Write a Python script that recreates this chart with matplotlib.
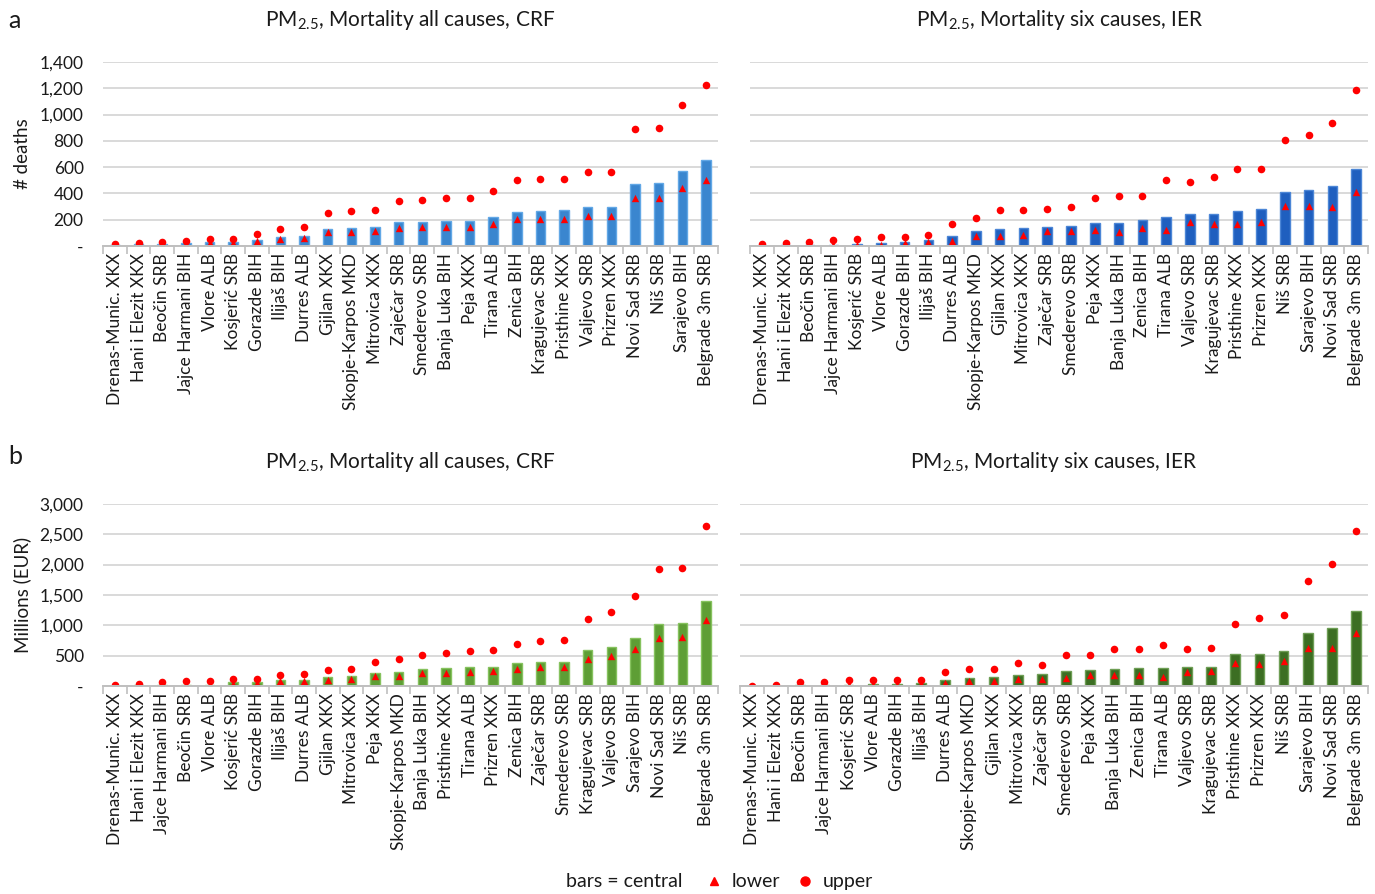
import matplotlib

matplotlib.use("Agg")
import matplotlib.pyplot as plt
from matplotlib.lines import Line2D
from matplotlib.ticker import FuncFormatter, FixedLocator

plt.rcParams["font.family"] = ["Lato", "DejaVu Sans"]
plt.rcParams["mathtext.default"] = "regular"

# ---- panel a, left: deaths, all causes, CRF ----
cities_a1 = [
    "Drenas-Munic. XKX", "Hani i Elezit XKX", "Beočin SRB", "Jajce Harmani BIH",
    "Vlore ALB", "Kosjerić SRB", "Gorazde BIH", "Ilijaš BIH", "Durres ALB",
    "Gjilan XKX", "Skopje-Karpos MKD", "Mitrovica XKX", "Zaječar SRB",
    "Smederevo SRB", "Banja Luka BIH", "Peja XKX", "Tirana ALB", "Zenica BIH",
    "Kragujevac SRB", "Pristhine XKX", "Valjevo SRB", "Prizren XKX",
    "Novi Sad SRB", "Niš SRB", "Sarajevo BIH", "Belgrade 3m SRB",
]
central_a1 = [8, 12, 15, 20, 28, 28, 47, 70, 75, 133, 140, 145, 180, 183, 190,
              192, 220, 262, 266, 272, 295, 300, 474, 478, 568, 651]
lower_a1 = [5, 8, 11, 15, 21, 21, 36, 54, 58, 106, 108, 112, 139, 141, 146,
            148, 170, 202, 205, 209, 227, 231, 365, 368, 440, 502]
upper_a1 = [15, 25, 30, 42, 53, 53, 88, 130, 142, 253, 265, 272, 343, 350, 367,
            368, 420, 500, 507, 513, 562, 563, 892, 900, 1070, 1225]

# ---- panel a, right: deaths, six causes, IER ----
cities_a2 = [
    "Drenas-Munic. XKX", "Hani i Elezit XKX", "Beočin SRB", "Jajce Harmani BIH",
    "Kosjerić SRB", "Vlore ALB", "Gorazde BIH", "Ilijaš BIH", "Durres ALB",
    "Skopje-Karpos MKD", "Gjilan XKX", "Mitrovica XKX", "Zaječar SRB",
    "Smederevo SRB", "Peja XKX", "Banja Luka BIH", "Zenica BIH", "Tirana ALB",
    "Valjevo SRB", "Kragujevac SRB", "Pristhine XKX", "Prizren XKX", "Niš SRB",
    "Sarajevo BIH", "Novi Sad SRB", "Belgrade 3m SRB",
]
central_a2 = [3, 5, 7, 10, 13, 25, 33, 46, 76, 114, 129, 134, 147, 154, 175,
              175, 197, 223, 246, 246, 268, 281, 410, 428, 453, 585]
lower_a2 = [2, 3, 4, 5, 7, 10, 25, 33, 38, 78, 78, 86, 111, 116, 119, 104,
            139, 119, 180, 170, 170, 185, 301, 306, 296, 408]
upper_a2 = [15, 25, 30, 48, 56, 71, 71, 81, 170, 210, 271, 276, 283, 294, 365,
            382, 382, 504, 484, 524, 587, 587, 810, 848, 934, 1187]

# ---- panel b, left: costs, all causes, CRF ----
cities_b1 = [
    "Drenas-Munic. XKX", "Hani i Elezit XKX", "Jajce Harmani BIH", "Beočin SRB",
    "Vlore ALB", "Kosjerić SRB", "Gorazde BIH", "Ilijaš BIH", "Durres ALB",
    "Gjilan XKX", "Mitrovica XKX", "Peja XKX", "Skopje-Karpos MKD",
    "Banja Luka BIH", "Pristhine XKX", "Tirana ALB", "Prizren XKX", "Zenica BIH",
    "Zaječar SRB", "Smederevo SRB", "Kragujevac SRB", "Valjevo SRB",
    "Sarajevo BIH", "Novi Sad SRB", "Niš SRB", "Belgrade 3m SRB",
]
central_b1 = [6, 12, 17, 22, 22, 60, 60, 99, 104, 143, 159, 209, 231, 275, 297,
              313, 319, 374, 401, 401, 588, 643, 797, 1022, 1033, 1407]
lower_b1 = [4, 8, 11, 15, 15, 33, 44, 82, 77, 104, 110, 157, 170, 214, 220,
            231, 242, 286, 308, 308, 451, 495, 615, 797, 808, 1088]
upper_b1 = [10, 27, 60, 77, 77, 121, 121, 181, 198, 269, 286, 390, 451, 516,
            549, 577, 588, 698, 747, 764, 1104, 1220, 1484, 1929, 1940, 2643]

# ---- panel b, right: costs, six causes, IER ----
cities_b2 = [
    "Drenas-Munic. XKX", "Hani i Elezit XKX", "Beočin SRB", "Jajce Harmani BIH",
    "Kosjerić SRB", "Vlore ALB", "Gorazde BIH", "Ilijaš BIH", "Durres ALB",
    "Skopje-Karpos MKD", "Gjilan XKX", "Mitrovica XKX", "Zaječar SRB",
    "Smederevo SRB", "Peja XKX", "Banja Luka BIH", "Zenica BIH", "Tirana ALB",
    "Valjevo SRB", "Kragujevac SRB", "Pristhine XKX", "Prizren XKX", "Niš SRB",
    "Sarajevo BIH", "Novi Sad SRB", "Belgrade 3m SRB",
]
central_b2 = [3, 5, 15, 22, 22, 39, 39, 56, 101, 128, 140, 179, 196, 246, 268,
              279, 291, 291, 307, 318, 525, 525, 575, 866, 955, 1240]
lower_b2 = [2, 3, 8, 12, 10, 22, 22, 28, 50, 84, 84, 117, 117, 128, 184, 173,
            184, 156, 229, 240, 385, 358, 419, 631, 631, 866]
upper_b2 = [6, 11, 67, 67, 95, 95, 106, 106, 235, 285, 285, 374, 352, 514, 514,
            603, 603, 670, 603, 631, 1022, 1112, 1168, 1737, 2006, 2553]

TITLE_ALL = r"PM$_{2.5}$, Mortality all causes, CRF"
TITLE_SIX = r"PM$_{2.5}$, Mortality six causes, IER"

MARKER_RED = "#FF0000"
GRID_GREY = "#D9D9D9"
AXIS_GREY = "#BFBFBF"
TEXT_COL = "#1A1A1A"


def fmt_excel(v, pos):
    if abs(v) < 1e-9:
        return "-"
    return f"{v:,.0f}"


def draw_panel(ax, cities, central, lower, upper, face, edge, ymax, ystep,
               title, show_yticks):
    x = list(range(len(cities)))
    ax.bar(x, central, width=0.4, color=face, edgecolor=edge, linewidth=1.0,
           zorder=2)
    ax.scatter(x, lower, marker="^", s=28, color=MARKER_RED, zorder=3,
               linewidths=0)
    ax.scatter(x, upper, marker="o", s=30, color=MARKER_RED, zorder=3,
               linewidths=0)

    ax.set_xlim(-0.5, len(cities) - 0.5)
    ax.set_ylim(0, ymax)
    ax.set_yticks(range(0, ymax + 1, ystep))
    ax.yaxis.set_major_formatter(FuncFormatter(fmt_excel))
    ax.grid(axis="y", color=GRID_GREY, linewidth=1.4, zorder=0)
    ax.set_axisbelow(True)

    for s in ("top", "right", "left"):
        ax.spines[s].set_visible(False)
    ax.spines["bottom"].set_color(AXIS_GREY)
    ax.spines["bottom"].set_linewidth(1.4)
    ax.spines["bottom"].set_zorder(4)

    ax.set_xticks(x)
    ax.set_xticklabels(cities, rotation=90, fontsize=12.5, color=TEXT_COL)
    ax.xaxis.set_minor_locator(FixedLocator([i - 0.5 for i in range(len(cities) + 1)]))
    ax.tick_params(axis="x", which="major", length=0, pad=5)
    ax.tick_params(axis="x", which="minor", length=6, color=AXIS_GREY, width=1.2)
    ax.tick_params(axis="y", length=0, labelsize=12.5, colors=TEXT_COL, pad=14)
    if not show_yticks:
        ax.tick_params(axis="y", labelleft=False)

    ax.set_title(title, fontsize=15, color=TEXT_COL, pad=26)


fig = plt.figure(figsize=(13.75, 8.94), dpi=100)

ax_a1 = fig.add_axes([0.075, 0.7248, 0.447, 0.2058])
ax_a2 = fig.add_axes([0.5455, 0.7248, 0.4495, 0.2058])
ax_b1 = fig.add_axes([0.075, 0.2327, 0.447, 0.2036])
ax_b2 = fig.add_axes([0.538, 0.2327, 0.457, 0.2036])

draw_panel(ax_a1, cities_a1, central_a1, lower_a1, upper_a1,
           "#3A86CF", "#62A8E6", 1400, 200, TITLE_ALL, True)
draw_panel(ax_a2, cities_a2, central_a2, lower_a2, upper_a2,
           "#1F5FBF", "#4C86D6", 1400, 200, TITLE_SIX, False)
draw_panel(ax_b1, cities_b1, central_b1, lower_b1, upper_b1,
           "#5E9E35", "#86C25E", 3000, 500, TITLE_ALL, True)
draw_panel(ax_b2, cities_b2, central_b2, lower_b2, upper_b2,
           "#3C6E23", "#6E9E55", 3000, 500, TITLE_SIX, False)

ax_a1.set_ylabel("# deaths", fontsize=13.5, color=TEXT_COL, labelpad=6)
ax_b1.set_ylabel("Millions (EUR)", fontsize=13.5, color=TEXT_COL, labelpad=6)

fig.text(0.006, 0.977, "a", fontsize=18, color=TEXT_COL, va="center")
fig.text(0.006, 0.489, "b", fontsize=18, color=TEXT_COL, va="center")

# bottom legend
fig.text(0.496, 0.0135, "bars = central", fontsize=14, color=TEXT_COL,
         ha="right", va="center")
handles = [
    Line2D([], [], linestyle="none", marker="^", markersize=6,
           color=MARKER_RED),
    Line2D([], [], linestyle="none", marker="o", markersize=6.5,
           color=MARKER_RED),
]
fig.legend(handles, ["lower", "upper"], loc="center left",
           bbox_to_anchor=(0.505, 0.0135), ncol=2, frameon=False,
           fontsize=14, handlelength=1.0, handletextpad=0.4,
           columnspacing=0.8, borderpad=0, labelcolor=TEXT_COL)

fig.savefig("out.png", dpi=100)
